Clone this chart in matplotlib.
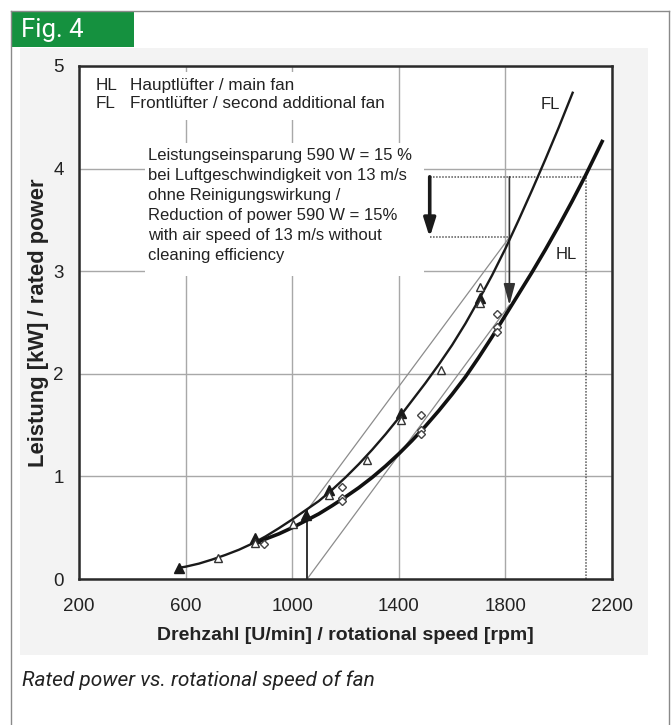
import matplotlib
matplotlib.use("Agg")
import matplotlib.pyplot as plt
from matplotlib.patches import Rectangle

# ---------------- data ----------------
x_ticks = [200, 600, 1000, 1400, 1800, 2200]
y_ticks = [0, 1, 2, 3, 4, 5]

# FL (Frontlüfter) fitted curve, thin line
fl_curve_rpm = [577, 600, 650, 700, 750, 800, 850, 900, 950, 1000, 1050, 1100, 1150, 1200,
                1250, 1300, 1350, 1400, 1450, 1500, 1550, 1600, 1650, 1700, 1750, 1800,
                1850, 1900, 1950, 2000, 2054]
fl_curve_kw = [0.11, 0.12, 0.15, 0.19, 0.235, 0.285, 0.345, 0.415, 0.495, 0.58, 0.67, 0.76,
               0.87, 0.99, 1.12, 1.26, 1.41, 1.57, 1.74, 1.91, 2.09, 2.28, 2.49, 2.72, 2.96,
               3.22, 3.50, 3.79, 4.09, 4.40, 4.75]

# HL (Hauptlüfter) fitted curve, thick line
hl_curve_rpm = [870, 900, 950, 1000, 1056, 1100, 1150, 1200, 1250, 1300, 1350, 1400, 1450,
                1500, 1550, 1600, 1650, 1700, 1750, 1800, 1850, 1900, 1950, 2000, 2050,
                2100, 2166]
hl_curve_kw = [0.36, 0.39, 0.44, 0.50, 0.575, 0.635, 0.715, 0.80, 0.89, 0.99, 1.10, 1.22,
               1.35, 1.49, 1.64, 1.80, 1.97, 2.16, 2.36, 2.57, 2.78, 2.99, 3.21, 3.44, 3.68,
               3.93, 4.28]

# measured points
fl_filled_rpm = [577, 862, 1052, 1138, 1407, 1703]
fl_filled_kw = [0.11, 0.40, 0.62, 0.87, 1.62, 2.74]
fl_open_rpm = [723, 862, 1004, 1138, 1280, 1407, 1557, 1703, 1703]
fl_open_kw = [0.20, 0.35, 0.54, 0.82, 1.16, 1.55, 2.04, 2.85, 2.69]
hl_open_rpm = [895, 1187, 1187, 1187, 1482, 1482, 1482, 1770, 1770, 1770]
hl_open_kw = [0.34, 0.90, 0.79, 0.76, 1.60, 1.45, 1.41, 2.58, 2.46, 2.41]

# construction of the power saving
construct_rpm = [1056, 1815]
upper_thin_kw = [0.67, 3.33]
lower_thin_kw = [0.0, 2.67]
level_top_kw = 3.92
level_low_kw = 3.33
arrow_left_rpm = 1516
dotted_right_rpm = 2103

legend_lines = [("HL", "Hauptlüfter / main fan"),
                ("FL", "Frontlüfter / second additional fan")]
note_text = ("Leistungseinsparung 590 W = 15 %\n"
             "bei Luftgeschwindigkeit von 13 m/s\n"
             "ohne Reinigungswirkung /\n"
             "Reduction of power 590 W = 15%\n"
             "with air speed of 13 m/s without\n"
             "cleaning efficiency")

# ---------------- figure ----------------
W, H = 671, 725
fig = plt.figure(figsize=(W / 100, H / 100), dpi=100)
fig.patch.set_facecolor("white")

def fx(px):
    return px / W

def fy(py):
    return 1 - py / H

# outer frame
fig.add_artist(plt.Line2D([fx(10.5), fx(10.5)], [fy(10.5), fy(725)], color="#8a8a8a", lw=1.0))
fig.add_artist(plt.Line2D([fx(668.5), fx(668.5)], [fy(10.5), fy(725)], color="#8a8a8a", lw=1.0))
fig.add_artist(plt.Line2D([fx(10.5), fx(668.5)], [fy(10.5), fy(10.5)], color="#8a8a8a", lw=1.0))

# light grey chart panel
fig.add_artist(Rectangle((fx(20), fy(655)), fx(628), 607 / H, transform=fig.transFigure,
                         facecolor="#f3f3f3", edgecolor="none", zorder=0))
# green tab
fig.add_artist(Rectangle((fx(12), fy(47)), fx(122), 35 / H, transform=fig.transFigure,
                         facecolor="#15913f", edgecolor="none", zorder=1))
fig.text(fx(21), fy(30), "Fig. 4", color="white", fontsize=18.5, family="Roboto",
         va="center", ha="left")

# caption
fig.text(fx(22), fy(680), "Rated power vs. rotational speed of fan", fontsize=15,
         family="Roboto", style="italic", va="center", ha="left", color="#222222")

ax = fig.add_axes([fx(79), fy(579), fx(612 - 79), (579 - 66) / H])
ax.set_facecolor("white")
ax.set_xlim(200, 2200)
ax.set_ylim(0, 5)
ax.set_xticks(x_ticks)
ax.set_yticks(y_ticks)
ax.tick_params(length=0, labelsize=13.5, colors="#222222")
ax.tick_params(axis="x", pad=14)
ax.tick_params(axis="y", pad=11)
for lab in ax.get_xticklabels() + ax.get_yticklabels():
    lab.set_family("Liberation Sans")
for s in ax.spines.values():
    s.set_linewidth(1.8)
    s.set_color("#2a2a2a")
    s.set_zorder(10)

ax.grid(True, color="#a8a8a8", lw=1.0, zorder=0.5)
ax.set_axisbelow(True)

ax.set_xlabel("Drehzahl [U/min] / rotational speed [rpm]", fontsize=14, fontweight="bold",
              family="Liberation Sans", color="#222222", labelpad=8)
ax.set_ylabel("Leistung [kW] / rated power", fontsize=15.8, fontweight="bold",
              family="Liberation Sans", color="#222222", labelpad=3)

# white boxes behind texts (hide grid)
ax.add_patch(Rectangle((204, 4.47), 1166, 0.47, facecolor="white", edgecolor="none", zorder=1))
ax.add_patch(Rectangle((447, 2.95), 1046, 1.30, facecolor="white", edgecolor="none", zorder=1))

# legend text
for i, (abbr, desc) in enumerate(legend_lines):
    yv = 4.81 - i * 0.175
    ax.text(264, yv, abbr, fontsize=12.3, family="Liberation Sans", va="center", ha="left",
            color="#222222", zorder=5)
    ax.text(391, yv, desc, fontsize=12.3, family="Liberation Sans", va="center", ha="left",
            color="#222222", zorder=5)

ax.text(458, 4.20, note_text, fontsize=12, family="Liberation Sans", va="top", ha="left",
        linespacing=1.42, color="#222222", zorder=5)

# construction lines
ax.plot(construct_rpm, upper_thin_kw, color="#8c8c8c", lw=0.9, zorder=2)
ax.plot(construct_rpm, lower_thin_kw, color="#8c8c8c", lw=0.9, zorder=2)
ax.plot([construct_rpm[0], construct_rpm[0]], [0, upper_thin_kw[0]], color="#333333", lw=1.4, zorder=3)
ax.plot([arrow_left_rpm, dotted_right_rpm], [level_top_kw, level_top_kw], color="#555555",
        lw=1.1, ls=(0, (1, 1)), zorder=2)
ax.plot([dotted_right_rpm, dotted_right_rpm], [0, level_top_kw], color="#555555",
        lw=1.1, ls=(0, (1, 1)), zorder=2)
ax.plot([arrow_left_rpm, construct_rpm[1]], [level_low_kw, level_low_kw], color="#555555",
        lw=1.1, ls=(0, (1, 1)), zorder=2)
ax.annotate("", xy=(arrow_left_rpm, level_low_kw), xytext=(arrow_left_rpm, level_top_kw),
            arrowprops=dict(arrowstyle="-|>,head_length=1.1,head_width=0.35", lw=2.6,
                            color="#1a1a1a", shrinkA=0, shrinkB=0), zorder=4)
ax.annotate("", xy=(construct_rpm[1], lower_thin_kw[1]), xytext=(construct_rpm[1], level_top_kw),
            arrowprops=dict(arrowstyle="-|>,head_length=1.3,head_width=0.35", lw=1.2,
                            color="#333333", shrinkA=0, shrinkB=0), zorder=4)

# curves
ax.plot(fl_curve_rpm, fl_curve_kw, color="#1a1a1a", lw=1.7, zorder=4, solid_capstyle="butt")
ax.plot(hl_curve_rpm, hl_curve_kw, color="#111111", lw=2.6, zorder=4, solid_capstyle="butt")

# markers
ax.plot(fl_filled_rpm, fl_filled_kw, ls="none", marker="^", ms=7, color="#1a1a1a", zorder=6)
ax.plot(fl_open_rpm, fl_open_kw, ls="none", marker="^", ms=6, mfc="white", mec="#333333",
        mew=1.0, zorder=6)
ax.plot(hl_open_rpm, hl_open_kw, ls="none", marker="D", ms=4, mfc="white", mec="#444444",
        mew=1.0, zorder=6)

ax.text(1970, 4.62, "FL", fontsize=12, family="Liberation Sans", va="center", ha="center",
        color="#222222", zorder=5)
ax.text(2030, 3.16, "HL", fontsize=12, family="Liberation Sans", va="center", ha="center",
        color="#222222", zorder=5)

fig.savefig("out.png", dpi=100, facecolor=fig.get_facecolor())
